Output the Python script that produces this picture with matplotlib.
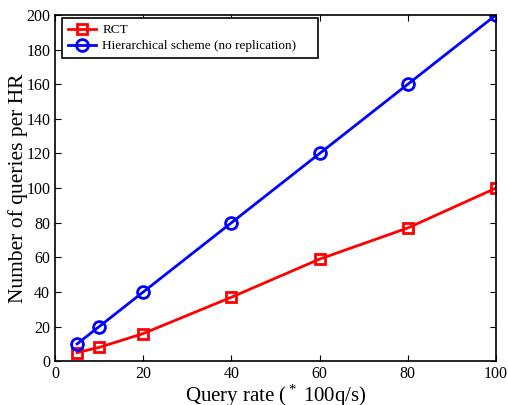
import numpy as np
from matplotlib import pyplot as plt

plt.rcParams['font.family'] = ['Liberation Serif', 'DejaVu Serif']
plt.rcParams['mathtext.fontset'] = 'custom'
plt.rcParams['mathtext.rm'] = 'Liberation Serif'
plt.rcParams['mathtext.it'] = 'Liberation Serif:italic'

queryRate = [5, 10, 20, 40, 60, 80, 100]
rctQueries = [5, 8, 16, 37, 59, 77, 100]
hierQueries = [10, 20, 40, 80, 120, 160, 200]

fig = plt.figure(figsize=(5.08, 4.05), dpi=100)
ax = fig.add_axes([0.1083, 0.108, 0.868, 0.855])

ax.plot(queryRate, rctQueries, color='red', linewidth=2, marker='s', markersize=6.5,
        markerfacecolor='none', markeredgewidth=2, label='RCT')
ax.plot(queryRate, hierQueries, color='blue', linewidth=2, marker='o', markersize=8.5,
        markerfacecolor='none', markeredgewidth=2, label='Hierarchical scheme (no replication)')

ax.set_xlim(0, 100)
ax.set_ylim(0, 200)
ax.set_xticks(np.arange(0, 101, 20))
ax.set_yticks(np.arange(0, 201, 20))
ax.tick_params(direction='in', top=True, right=True, labelsize=11.5, length=4, pad=3.5)
for s in ax.spines.values():
    s.set_linewidth(1.2)

ax.set_xlabel(r'Query rate ($\mathrm{^*}\ $100q/s)', fontsize=15, labelpad=0.3)
ax.set_ylabel('Number of queries per HR', fontsize=15.5, labelpad=-1)

# MATLAB-like legend: box wider than its text
leg = ax.legend(loc='upper left', bbox_to_anchor=(0.016, 0.5, 0.58, 0.491), mode='expand',
                fontsize=9.5, fancybox=False, framealpha=1, edgecolor='black',
                borderaxespad=0, handlelength=2.1, borderpad=0.45, labelspacing=0.3,
                handletextpad=0.5)
leg.get_frame().set_linewidth(1.2)

fig.savefig('out.png', dpi=100)
